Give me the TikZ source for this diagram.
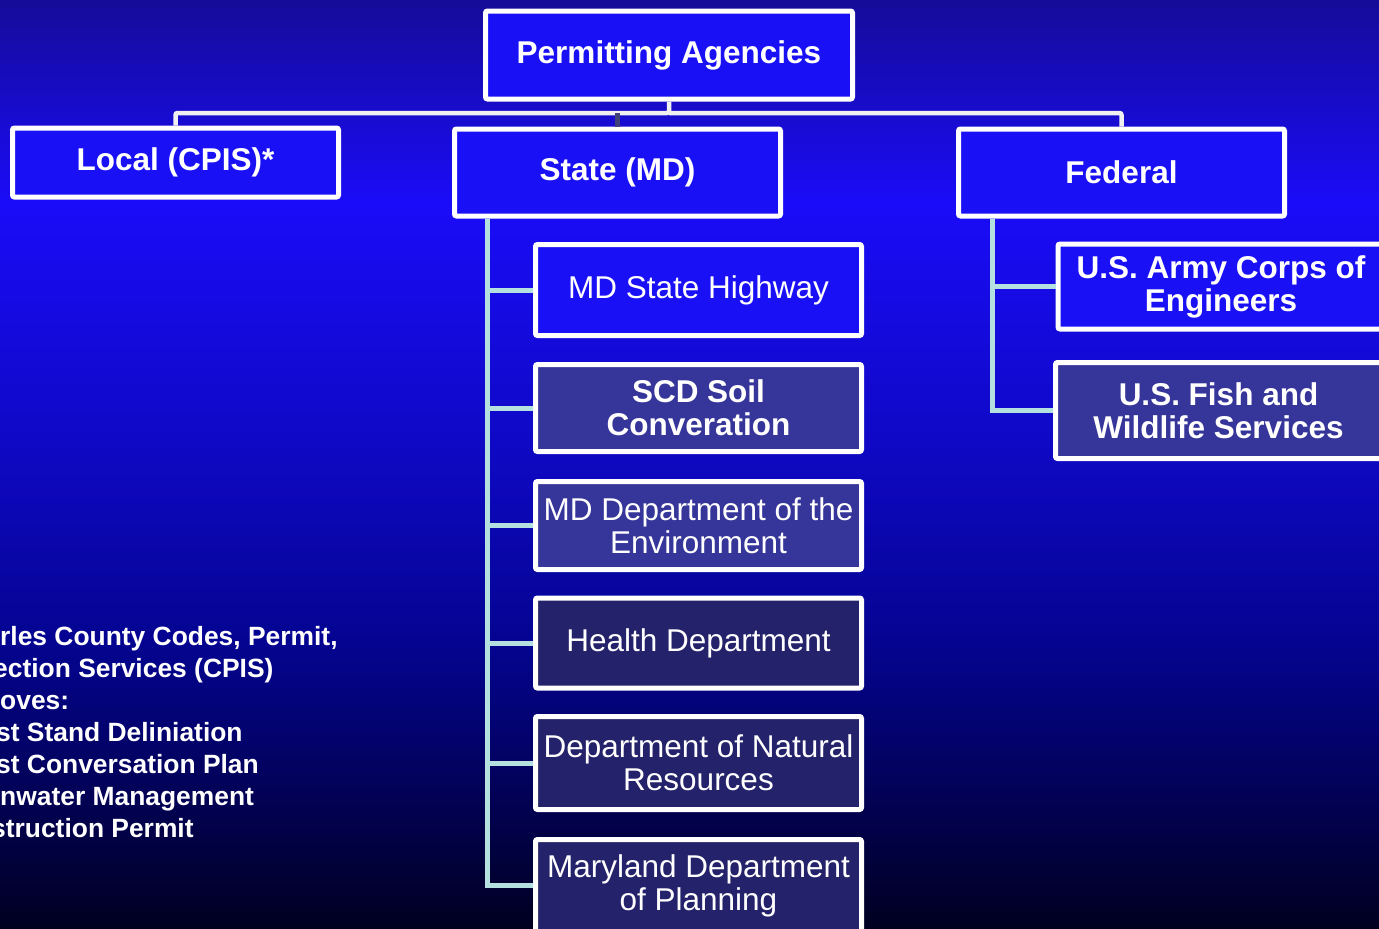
\documentclass[tikz,border=0pt]{standalone}
\usepackage{fontspec}
\setmainfont{Liberation Sans}
\usetikzlibrary{positioning}

\definecolor{bgA}{HTML}{000020}
\definecolor{bgB}{HTML}{03026A}
\definecolor{bgC}{HTML}{04048E}
\definecolor{bgD}{HTML}{0E08C0}
\definecolor{bgE}{HTML}{1A0CF8}
\definecolor{bgF}{HTML}{160C99}
\definecolor{boxblue}{HTML}{1A10F5}
\definecolor{boxmid}{HTML}{36359A}
\definecolor{boxdark}{HTML}{24226A}
\definecolor{busgray}{HTML}{F0F0F0}
\definecolor{dimbus}{HTML}{40407A}
\definecolor{spine}{HTML}{B4E0E0}

\pgfdeclareverticalshading{bgfade}{100bp}{color(0bp)=(bgA); color(25bp)=(bgA); color(35bp)=(bgB); color(40bp)=(bgC); color(50bp)=(bgD); color(64bp)=(bgE); color(75bp)=(bgF); color(100bp)=(bgF)}

\begin{document}
\begin{tikzpicture}[
    x=1pt, y=-1pt,
    block/.style={rectangle, rounded corners=2pt, draw=white, line width=5pt, fill=boxblue,
        text=white, inner sep=0pt, align=center, minimum width=326pt,
        font=\fontsize{31.5}{33}\selectfont},
    mblock/.style={block, fill=boxmid},
    dblock/.style={block, fill=boxdark},
    heavy/.style={font=\fontsize{31.5}{33}\selectfont\bfseries},
    bus/.style={draw=busgray, line width=4.5pt, rounded corners=2pt},
    branch/.style={draw=spine, line width=5pt}]

    \useasboundingbox (0,0) rectangle (1379,929);
    \fill[shading=bgfade] (0,0) rectangle (1379,929);

    % top row
    \node[block, heavy, minimum width=367pt, minimum height=88pt] (agency) at (669,55) {Permitting Agencies};
    \node[block, heavy, minimum height=69pt] (local) at (175.5,162.5) {Local (CPIS)*};
    \node[block, heavy, minimum height=87pt] (state) at (617.5,172.5) {State (MD)};
    \node[block, heavy, minimum height=87pt] (federal) at (1121.5,172.5) {Federal};

    % state offices
    \node[block, minimum height=91pt] (highway) at (698.5,290) {MD State Highway};
    \node[mblock, heavy, minimum height=87pt] (soil) at (698.5,408) {SCD Soil\\Converation};
    \node[mblock, minimum height=88pt] (environ) at (698.5,525.5) {MD Department of the\\Environment};
    \node[dblock, minimum height=90pt] (health) at (698.5,643) {Health Department};
    \node[dblock, minimum height=93pt] (natural) at (698.5,763) {Department of Natural\\Resources};
    \node[dblock, minimum height=92pt] (planning) at (698.5,885.5) {Maryland Department\\of Planning};

    % federal offices
    \node[block, heavy, minimum height=85pt] (army) at (1221,286.5) {U.S. Army Corps of\\Engineers};
    \node[mblock, heavy, minimum height=96pt] (fish) at (1218.5,410.5) {U.S. Fish and\\Wildlife Services};

    \node[anchor=north west, align=left, inner sep=0pt, text=white,
        font=\fontsize{26.4}{32}\selectfont\bfseries] (cpis) at (0,626.5)
        {rles County Codes, Permit,\\\hspace*{-7pt}ection Services (CPIS)\\oves:\\\hspace*{-4pt}st Stand Deliniation\\\hspace*{-4pt}st Conversation Plan\\nwater Management\\\hspace*{-9pt}struction Permit};

    \coordinate (bus) at (669,113);
    \draw[bus] (agency.south) -- (bus) -| (local.north);
    \draw[bus] (bus) -| (federal.north);
    \draw[draw=dimbus, line width=4.5pt] (bus -| state.north) -- (state.north);

    \draw[branch] ([xshift=35pt]state.south west) |- (highway.west);
    \draw[branch] ([xshift=35pt]state.south west) |- (soil.west);
    \draw[branch] ([xshift=35pt]state.south west) |- (environ.west);
    \draw[branch] ([xshift=35pt]state.south west) |- (health.west);
    \draw[branch] ([xshift=35pt]state.south west) |- (natural.west);
    \draw[branch] ([xshift=35pt]state.south west) |- (planning.west);

    \draw[branch] ([xshift=36pt]federal.south west) |- (army.west);
    \draw[branch] ([xshift=36pt]federal.south west) |- (fish.west);
\end{tikzpicture}
\end{document}
